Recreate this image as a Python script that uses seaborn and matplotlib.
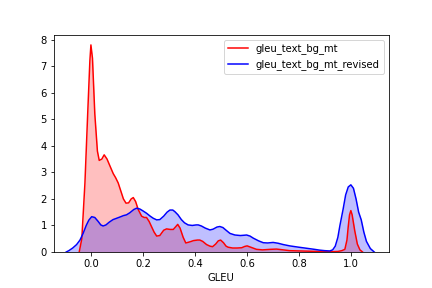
import seaborn as sns
import matplotlib.pyplot as plt
import numpy as np
import pandas as pd

# density curves (x = GLEU, y = density)
mt_x = [-0.045, -0.035, -0.023, -0.012, -0.004, 0.0, 0.006, 0.015, 0.025, 0.032, 0.042, 0.051, 0.062,
        0.075, 0.086, 0.095, 0.105, 0.115, 0.125, 0.135, 0.145, 0.155, 0.163, 0.172, 0.182,
        0.195, 0.205, 0.214, 0.224, 0.233, 0.243, 0.253, 0.265, 0.28, 0.291, 0.305, 0.317,
        0.326, 0.334, 0.343, 0.355, 0.365, 0.38, 0.395, 0.41, 0.419, 0.43, 0.445, 0.458,
        0.468, 0.48, 0.49, 0.499, 0.51, 0.52, 0.528, 0.545, 0.562, 0.58, 0.592, 0.601,
        0.615, 0.637, 0.66, 0.69, 0.714, 0.74, 0.765, 0.8, 0.84, 0.88, 0.92, 0.95, 0.965,
        0.977, 0.985, 0.99, 0.995, 1.0, 1.005, 1.01, 1.015, 1.025, 1.035, 1.045]
mt_y = [0.0, 0.5, 2.6, 5.3, 7.2, 7.8, 7.3, 5.2, 3.8, 3.45, 3.5, 3.66, 3.5,
        3.2, 2.95, 2.8, 2.6, 2.3, 2.0, 1.84, 1.85, 2.0, 2.05, 1.9, 1.6,
        1.35, 1.3, 1.3, 1.15, 0.96, 0.75, 0.6, 0.62, 0.82, 0.87, 0.85, 0.85,
        0.95, 1.04, 0.9, 0.55, 0.34, 0.38, 0.43, 0.45, 0.45, 0.4, 0.28, 0.22,
        0.2, 0.3, 0.42, 0.45, 0.35, 0.22, 0.18, 0.15, 0.15, 0.16, 0.21, 0.23,
        0.18, 0.1, 0.08, 0.1, 0.11, 0.08, 0.05, 0.04, 0.03, 0.02, 0.01, 0.02, 0.05,
        0.1, 0.45, 0.96, 1.4, 1.56, 1.4, 1.1, 0.8, 0.3, 0.08, 0.0]

rev_x = [-0.095, -0.085, -0.07, -0.055, -0.042, -0.03, -0.018, -0.008, 0.003, 0.015, 0.028,
         0.038, 0.047, 0.058, 0.07, 0.085, 0.099, 0.115, 0.125, 0.137, 0.15, 0.165, 0.176,
         0.188, 0.2, 0.214, 0.228, 0.24, 0.253, 0.265, 0.28, 0.293, 0.304, 0.315, 0.323,
         0.335, 0.348, 0.36, 0.374, 0.39, 0.405, 0.413, 0.425, 0.44, 0.458, 0.47, 0.485,
         0.496, 0.508, 0.52, 0.535, 0.554, 0.575, 0.588, 0.599, 0.612, 0.625, 0.645,
         0.663, 0.68, 0.701, 0.72, 0.74, 0.765, 0.8, 0.83, 0.86, 0.88, 0.9, 0.919, 0.93,
         0.94, 0.95, 0.958, 0.97, 0.98, 0.99, 1.0, 1.01, 1.02, 1.03, 1.04, 1.05, 1.06,
         1.075, 1.09]
rev_y = [0.0, 0.05, 0.15, 0.28, 0.45, 0.7, 1.0, 1.2, 1.33, 1.3, 1.15,
         1.02, 0.98, 1.02, 1.12, 1.22, 1.27, 1.33, 1.37, 1.4, 1.48, 1.6, 1.65,
         1.62, 1.55, 1.46, 1.35, 1.27, 1.21, 1.22, 1.35, 1.5, 1.58, 1.58, 1.52,
         1.4, 1.22, 1.1, 1.02, 1.0, 1.02, 1.02, 0.98, 0.9, 0.83, 0.86, 0.94,
         0.96, 0.92, 0.82, 0.7, 0.64, 0.62, 0.63, 0.64, 0.6, 0.52, 0.42,
         0.35, 0.34, 0.36, 0.33, 0.28, 0.23, 0.18, 0.14, 0.1, 0.07, 0.05, 0.04, 0.08,
         0.22, 0.55, 1.0, 1.6, 2.15, 2.45, 2.53, 2.4, 2.0, 1.5, 1.21, 0.75, 0.4,
         0.13, 0.0]

names = ['gleu_text_bg_mt', 'gleu_text_bg_mt_revised']
colors = ['red', 'blue']

df = pd.concat([
    pd.DataFrame({'GLEU': mt_x, 'density': mt_y, 'series': names[0]}),
    pd.DataFrame({'GLEU': rev_x, 'density': rev_y, 'series': names[1]}),
])

fig, ax = plt.subplots(figsize=(6, 4), dpi=72)
sns.lineplot(data=df, x='GLEU', y='density', hue='series', palette=colors,
             sort=False, estimator=None, linewidth=1.5, ax=ax)
ax.fill_between(mt_x, mt_y, color='red', alpha=0.25, linewidth=0)
ax.fill_between(rev_x, rev_y, color='blue', alpha=0.25, linewidth=0)

ax.set_xlim(-0.142, 1.146)
ax.set_ylim(0, 8.19)
ax.set_xticks([0.0, 0.2, 0.4, 0.6, 0.8, 1.0])
ax.set_yticks(range(9))
ax.set_xlabel('GLEU')
ax.set_ylabel('')
ax.legend(loc='upper right')
plt.subplots_adjust(left=0.125, right=0.9, bottom=0.125, top=0.88)
plt.savefig('out.png', dpi=72)
